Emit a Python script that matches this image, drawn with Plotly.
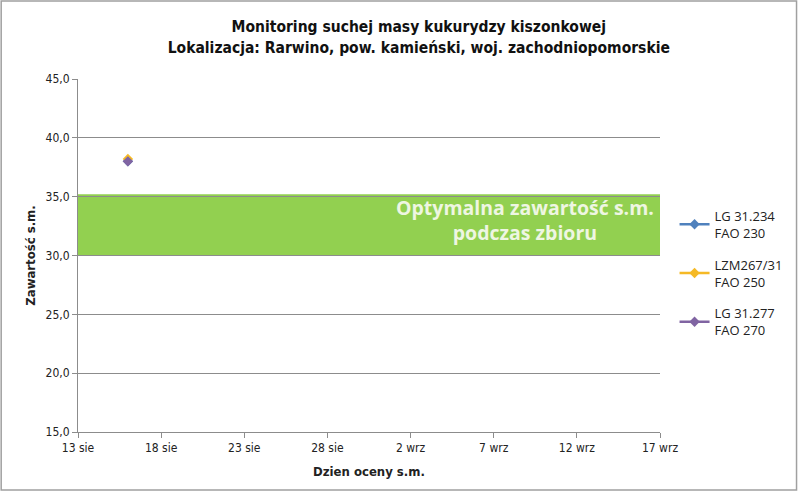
import plotly.graph_objects as go

# dane z wykresu
series_names = ["LG 31.234<br>FAO 230", "LZM267/31<br>FAO 250", "LG 31.277<br>FAO 270"]
series_colors = ["#4F81BD", "#F5B925", "#8064A2"]
dates = [["2014-08-16"], ["2014-08-16"], ["2014-08-16"]]
values = [[38.0], [38.2], [38.0]]

tick_dates = ["2014-08-13", "2014-08-18", "2014-08-23", "2014-08-28",
              "2014-09-02", "2014-09-07", "2014-09-12", "2014-09-17"]
tick_labels = ["13 sie", "18 sie", "23 sie", "28 sie", "2 wrz", "7 wrz", "12 wrz", "17 wrz"]
y_ticks = [15, 20, 25, 30, 35, 40, 45]
optimum = [30.0, 35.2]

FONT = "DejaVu Sans Condensed, Noto Sans, sans-serif"
GRID = "#8C8C8C"

fig = go.Figure()

for i, (name, color) in enumerate(zip(series_names, series_colors)):
    fig.add_trace(go.Scatter(
        x=dates[i], y=values[i],
        mode="lines+markers", name=name,
        line=dict(color=color, width=2.5),
        marker=dict(symbol="diamond", size=8, color=color),
        legendgroup=f"g{i}",
    ))

# pas optymalnej zawartości s.m.
fig.add_hrect(y0=optimum[0], y1=optimum[1], fillcolor="#92D050", opacity=1,
              line_width=0, layer="below")
fig.add_annotation(
    xref="paper", yref="y", x=0.768, xanchor="center",
    y=33.0, yanchor="middle",
    text="<b>Optymalna zawartość s.m.<br>podczas zbioru</b>",
    showarrow=False, align="center",
    font=dict(family="Open Sans, sans-serif", size=19.5, color="#EEF6E2"),
)

# ramka wykresu
fig.add_shape(type="rect", xref="paper", yref="paper",
              x0=-0.132, x1=1.2346, y0=-0.164, y1=1.221,
              line=dict(color="#A0A0A0", width=1.5))

fig.update_layout(
    width=800, height=491,
    margin=dict(l=78, r=138, t=79, b=59),
    paper_bgcolor="white", plot_bgcolor="white",
    separators=", ",
    font=dict(family=FONT, size=12, color="#222222"),
    title=dict(
        text="<b>Monitoring suchej masy kukurydzy kiszonkowej<br>"
             "Lokalizacja: Rarwino, pow. kamieński, woj. zachodniopomorskie</b>",
        xref="paper", x=0.5856, xanchor="center",
        yref="container", y=0.934, yanchor="middle",
        font=dict(family=FONT, size=15.5, color="#111111"),
    ),
    xaxis=dict(
        type="date", range=[tick_dates[0], tick_dates[-1]],
        tickvals=tick_dates, ticktext=tick_labels,
        showgrid=False, showline=True, linecolor=GRID, linewidth=1,
        ticks="outside", ticklen=5, tickcolor=GRID,
        tickfont=dict(size=12),
        title=dict(text="<b>Dzien oceny s.m.</b>", font=dict(size=13), standoff=12),
    ),
    yaxis=dict(
        range=[15, 45], tickvals=y_ticks, tickformat=".1f",
        showgrid=True, gridcolor=GRID, gridwidth=1,
        showline=True, linecolor=GRID, linewidth=1,
        ticks="outside", ticklen=5, tickcolor=GRID,
        zeroline=False, tickfont=dict(size=12),
        title=dict(text="<b>Zawartość s.m.</b>", font=dict(size=13), standoff=7),
    ),
    legend=dict(
        x=1.025, y=0.655, xanchor="left", yanchor="top",
        font=dict(family="Open Sans, sans-serif", size=13, color="#222222"),
        tracegroupgap=12, itemwidth=30, bgcolor="rgba(0,0,0,0)",
    ),
)

fig.write_html("out.html", config={"displayModeBar": False},
               post_script="document.body.style.margin='0';")
